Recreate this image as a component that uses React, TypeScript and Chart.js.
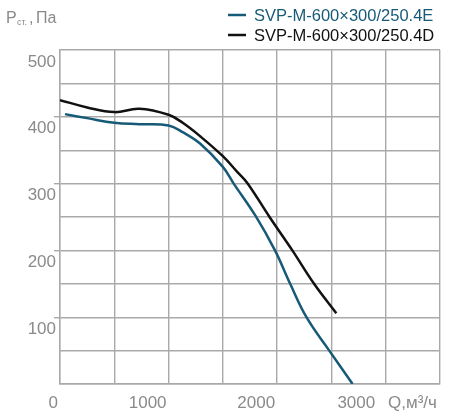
import { useEffect, useRef } from "react";
import { Chart, registerables } from "chart.js";

Chart.register(...registerables);

// Air flow Q (m³/h) and static pressure (Pa) for each fan
const flowE = [46, 250, 500, 730, 1000, 1130, 1290, 1500, 1600, 1800, 1980, 2120, 2270, 2480, 2695];
const pressureE = [404, 398, 391, 389, 387, 377, 360, 325, 300, 252, 200, 150, 100, 50, 0];
const flowD = [0, 250, 500, 730, 1000, 1130, 1290, 1500, 1630, 1725, 1930, 2140, 2340, 2545];
const pressureD = [425, 414, 407, 412, 403, 391, 371, 341, 318, 301, 250, 200, 150, 106];

const seriesNames = ["SVP-M-600×300/250.4E", "SVP-M-600×300/250.4D"];
const seriesColors = ["#175a78", "#111111"];
const xTickLabels = ["0", "1000", "2000", "3000"];
const yTickLabels = ["100", "200", "300", "400", "500"];

const GRID = "#a9a9a9";
const TEXT = "#8a8a8a";
const FONT = "'Liberation Sans', Arial, sans-serif";

export default function App() {
  const ref = useRef<HTMLCanvasElement>(null);

  useEffect(() => {
    const annot = {
      id: "annot",
      afterDraw(chart: any) {
        const ctx = chart.ctx as CanvasRenderingContext2D;
        ctx.save();
        ctx.textBaseline = "alphabetic";
        ctx.textAlign = "left";
        // axis title (top-left)
        ctx.fillStyle = TEXT;
        ctx.font = `16px ${FONT}`;
        ctx.fillText("P", 6, 23);
        ctx.font = `9px ${FONT}`;
        ctx.fillText("ст.", 17, 25);
        ctx.font = `16px ${FONT}`;
        ctx.fillText(",", 29, 23);
        ctx.fillText("Па", 36, 23);
        // legend
        const lx = 228;
        const rows = [15, 35];
        seriesNames.forEach((name, i) => {
          const y = rows[i];
          ctx.strokeStyle = seriesColors[i];
          ctx.lineWidth = 2.5;
          ctx.beginPath();
          ctx.moveTo(lx, y);
          ctx.lineTo(lx + 18, y);
          ctx.stroke();
          ctx.fillStyle = seriesColors[i];
          ctx.font = `16.5px ${FONT}`;
          ctx.textBaseline = "middle";
          ctx.fillText(name, lx + 26, y + 1);
        });
        // x axis title
        ctx.fillStyle = TEXT;
        ctx.textBaseline = "alphabetic";
        ctx.font = `17px ${FONT}`;
        ctx.fillText("Q,", 388, 408);
        ctx.fillText("м³/ч", 406, 408);
        ctx.restore();
      },
    };

    const chart = new Chart(ref.current as HTMLCanvasElement, {
      type: "line",
      data: {
        datasets: [
          {
            label: seriesNames[0],
            data: flowE.map((x, i) => ({ x, y: pressureE[i] })),
            borderColor: seriesColors[0],
            borderWidth: 2.5,
            pointRadius: 0,
            tension: 0.4,
            fill: false,
          },
          {
            label: seriesNames[1],
            data: flowD.map((x, i) => ({ x, y: pressureD[i] })),
            borderColor: seriesColors[1],
            borderWidth: 2.5,
            pointRadius: 0,
            tension: 0.4,
            fill: false,
          },
        ],
      },
      options: {
        responsive: false,
        animation: false,
        layout: { padding: { top: 50, right: 10, left: 0, bottom: 0 } },
        plugins: { legend: { display: false }, tooltip: { enabled: false } },
        scales: {
          x: {
            type: "linear",
            min: 0,
            max: 3500,
            afterFit: (s: any) => {
              s.height = 33;
            },
            ticks: {
              stepSize: 500,
              autoSkip: false,
              maxRotation: 0,
              align: "end",
              padding: 9,
              labelOffset: -2,
              color: TEXT,
              font: { family: FONT, size: 17 },
              callback: (v: any) => {
                const s = String(v);
                if (!xTickLabels.includes(s)) return "";
                // last label is pulled left to leave room for the axis unit
                return s === xTickLabels[xTickLabels.length - 1] ? s + "\u2002" : s;
              },
            },
            grid: { color: GRID, lineWidth: 1.4, drawTicks: false },
            border: { color: GRID, width: 1.4 },
          },
          y: {
            min: 0,
            max: 500,
            afterFit: (s: any) => {
              s.width = 60;
            },
            ticks: {
              stepSize: 50,
              autoSkip: false,
              labelOffset: 12,
              padding: -2,
              color: TEXT,
              font: { family: FONT, size: 17 },
              callback: (v: any) => (yTickLabels.includes(String(v)) ? String(v) : ""),
            },
            grid: {
              color: GRID,
              lineWidth: 1.4,
              tickLength: 6,
              tickColor: (c: any) => {
                const v = c.tick ? c.tick.value : 0;
                return v % 100 === 0 && v > 0 && v < 500 ? GRID : "rgba(0,0,0,0)";
              },
            },
            border: { color: GRID, width: 1.4 },
          },
        },
      },
      plugins: [annot],
    } as any);

    return () => chart.destroy();
  }, []);

  return (
    <div style={{ position: "absolute", left: 0, top: 0, width: 450, height: 417, background: "#fff" }}>
      <canvas ref={ref} width={450} height={417} style={{ display: "block" }} />
    </div>
  );
}
